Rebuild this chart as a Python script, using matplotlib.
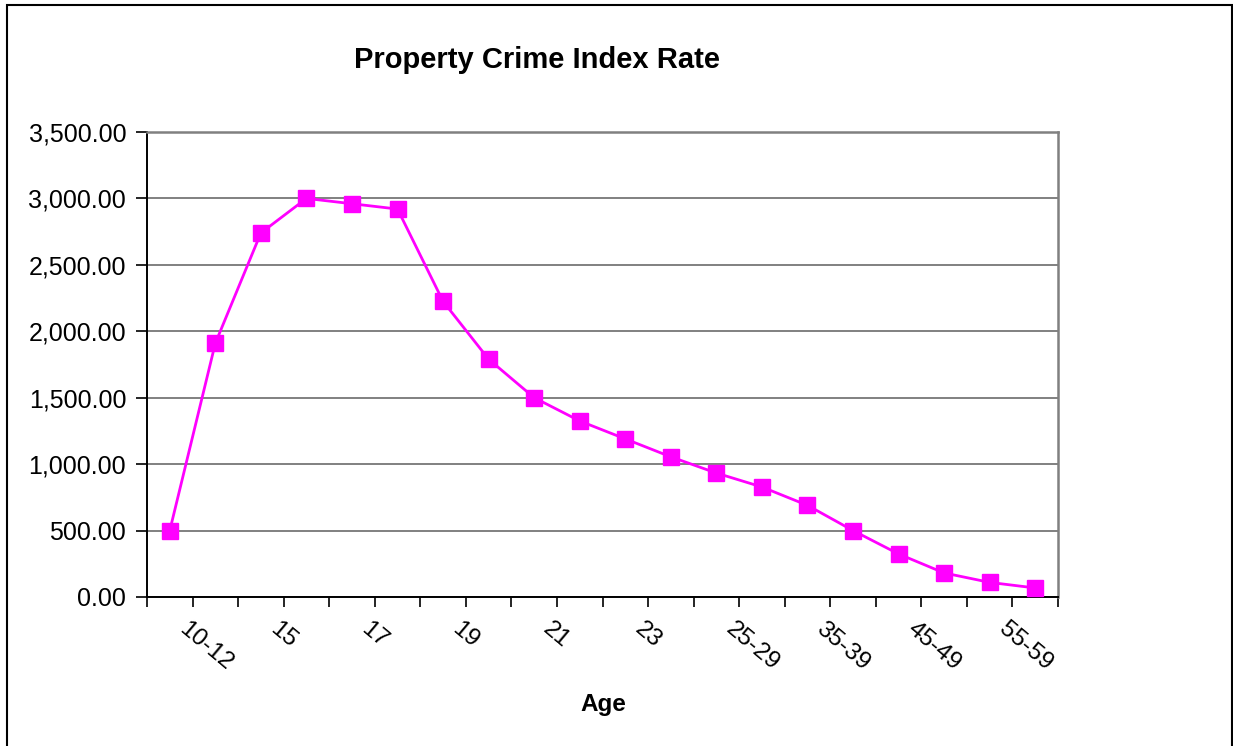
import matplotlib
matplotlib.use("Agg")
import matplotlib.pyplot as plt
import matplotlib.transforms as mtransforms
from matplotlib.patches import Rectangle
from matplotlib.ticker import FuncFormatter

plt.rcParams['font.family'] = ['Liberation Sans', 'DejaVu Sans']

ages = ["10-12", "13-14", "15", "16", "17", "18", "19", "20", "21", "22",
        "23", "24", "25-29", "30-34", "35-39", "40-44", "45-49", "50-54",
        "55-59", "60-64"]
rates = [500, 1910, 2740, 3000, 2960, 2920, 2225, 1790, 1500, 1325,
         1190, 1055, 933, 828, 690, 500, 324, 181, 110, 68]
y_ticks = [0, 500, 1000, 1500, 2000, 2500, 3000, 3500]

W, H = 1233, 746
fig = plt.figure(figsize=(W / 100, H / 100), dpi=100)
ax = fig.add_axes([147 / W, 1 - 597 / H, (1058 - 147) / W, (597 - 132) / H])

x = list(range(len(ages)))
ax.plot(x, rates, color="#FF00FF", lw=2.0, marker="s", markersize=12,
        markerfacecolor="#FF00FF", markeredgecolor="#FF00FF", zorder=3)

ax.set_xlim(-0.5, len(ages) - 0.5)
ax.set_ylim(0, 3500)
ax.set_yticks(y_ticks)
ax.yaxis.set_major_formatter(FuncFormatter(lambda v, p: f"{v:,.2f}"))
ax.grid(axis="y", color="#808080", lw=1.4)
ax.set_axisbelow(True)

# tick marks at category boundaries, labels on every other category
ax.set_xticks([i - 0.5 for i in range(len(ages) + 1)], minor=True)
ax.set_xticks(x[::2])
ax.set_xticklabels(ages[::2], rotation=-40, ha="left", va="top",
                   rotation_mode="anchor", fontsize=17.5)
ax.tick_params(axis="x", which="major", length=0, pad=15)
ax.tick_params(axis="x", which="minor", length=7, width=1.2, color="black",
               direction="out")
ax.tick_params(axis="y", length=8, width=1.2, direction="out", pad=7,
               labelsize=18)
offset = mtransforms.ScaledTranslation(0.19, 0, fig.dpi_scale_trans)
for lbl in ax.get_xticklabels():
    lbl.set_transform(lbl.get_transform() + offset)

for side in ("top", "right"):
    ax.spines[side].set_color("#808080")
    ax.spines[side].set_linewidth(1.8)
for side in ("left", "bottom"):
    ax.spines[side].set_color("black")
    ax.spines[side].set_linewidth(1.4)

fig.text(537 / W, 1 - 60 / H, "Property Crime Index Rate", ha="center",
         va="center", fontsize=21, fontweight="bold")
fig.text(603 / W, 1 - 705 / H, "Age", ha="center", va="center",
         fontsize=17.5, fontweight="bold")

# chart frame
fig.patches.append(Rectangle((7 / W, -0.05), (1232 - 7) / W, 1.05 - 5 / H,
                             transform=fig.transFigure, fill=False,
                             edgecolor="black", lw=1.5))

fig.savefig("out.png", dpi=100, facecolor="white")
